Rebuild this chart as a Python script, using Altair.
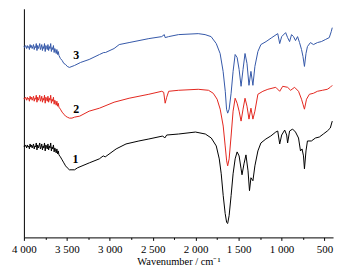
import altair as alt
import pandas as pd

NOISE_W = [4000, 3992, 3984, 3976, 3968, 3960, 3952, 3944, 3936, 3928, 3920, 3912, 3904, 3896,
           3888, 3880, 3872, 3864, 3856, 3848, 3840, 3832, 3824, 3816, 3808, 3800, 3792, 3784,
           3776, 3768, 3760, 3752, 3744, 3736, 3728, 3720, 3712, 3704, 3696, 3688, 3680, 3672,
           3664, 3656, 3648, 3640, 3632, 3624, 3616, 3608, 3600, 3592]

# Trace 3 (blue)
w3 = NOISE_W + [3575, 3555, 3535, 3515, 3495, 3470, 3440, 3410,
                3340, 3240, 3120, 3070, 3050, 2950, 2890, 2775, 2545, 2395,
                2365, 2355, 2315, 2200, 1970, 1890, 1820, 1760, 1715, 1680,
                1655, 1640, 1627, 1610, 1587, 1564, 1540, 1517, 1494, 1471,
                1448, 1425, 1402, 1379, 1356, 1333, 1310, 1275, 1240, 1180,
                1113, 1044, 1021, 998, 952, 929, 906, 883, 860, 837,
                813, 790, 767, 750, 733, 715, 698, 663, 628, 582,
                536, 490, 444, 421, 409]
v3 = [192, 191, 193, 192, 190, 193, 191, 192, 189, 194, 191, 193, 190, 192,
      194, 189, 192, 191, 195, 188, 193, 190, 192, 195, 189, 191, 194, 188,
      192, 190, 195, 187, 193, 191, 189, 194, 188, 192, 190, 195, 187, 191,
      189, 193, 186, 190, 188, 185, 189, 184, 187, 183,
      180, 178, 175, 174, 172, 171, 172, 173,
      176, 179, 184, 186, 186, 190, 194, 196, 200, 202,
      204, 201, 202, 204, 205, 204, 202, 195, 185, 167,
      147, 129, 125, 129, 145, 167, 184, 181, 169, 152,
      169, 185, 175, 153, 167, 153, 172, 187, 194, 197,
      201, 205, 195, 202, 206, 201, 197, 204, 202, 198,
      202, 196, 189, 182, 172, 185, 192, 196, 194, 196,
      197, 199, 201, 207, 211]

# Trace 2 (red)
w2 = NOISE_W + [3575, 3555, 3535, 3515, 3495, 3470, 3440, 3410,
                3350, 3240, 3120, 2950, 2775, 2545, 2395, 2372, 2355, 2337,
                2314, 2200, 1970, 1850, 1795, 1750, 1714, 1679, 1656, 1639,
                1627, 1610, 1587, 1564, 1540, 1517, 1494, 1471, 1448, 1425,
                1402, 1379, 1356, 1333, 1310, 1275, 1217, 1159, 1067, 1021,
                986, 929, 894, 848, 802, 767, 750, 733, 709, 675,
                628, 582, 524, 467, 432, 409]
v2 = [140, 139, 141, 140, 138, 141, 139, 140, 137, 142, 139, 141, 138, 140,
      142, 137, 140, 139, 143, 136, 141, 138, 140, 143, 137, 139, 142, 136,
      140, 138, 143, 135, 141, 139, 137, 142, 136, 140, 138, 143, 135, 139,
      137, 141, 134, 138, 136, 133, 137, 132, 135, 131,
      129, 126, 124, 122, 121, 120, 120, 121,
      122, 127, 130, 136, 140, 144, 147, 146, 135, 141,
      147, 148, 149, 148, 145, 139, 129, 112, 92, 77,
      72, 79, 102, 127, 140, 135, 127, 117, 129, 140,
      132, 119, 130, 119, 127, 144, 147, 149, 151, 147,
      152, 151, 148, 151, 147, 139, 134, 129, 139, 144,
      145, 147, 148, 149, 151, 153]

# Trace 1 (black)
w1 = NOISE_W + [3575, 3555, 3535, 3515, 3495, 3470, 3440, 3410,
                3376, 3238, 3122, 3076, 3053, 2926, 2811, 2661, 2545, 2383,
                2360, 2337, 2199, 2002, 1887, 1818, 1760, 1725, 1702, 1679,
                1656, 1639, 1627, 1610, 1587, 1564, 1540, 1517, 1494, 1471,
                1460, 1437, 1414, 1390, 1373, 1356, 1333, 1310, 1275, 1240,
                1182, 1125, 1067, 1044, 1021, 998, 963, 940, 929, 906,
                871, 837, 802, 779, 761, 744, 733, 715, 698, 652,
                605, 559, 513, 467, 432, 409]
v1 = [92, 91, 93, 92, 90, 93, 91, 92, 89, 94, 91, 93, 90, 92,
      94, 89, 92, 91, 95, 88, 93, 90, 92, 95, 89, 91, 94, 88,
      92, 90, 95, 87, 93, 91, 89, 94, 88, 92, 90, 95, 87, 91,
      89, 93, 86, 90, 88, 85, 89, 84, 87, 83,
      81, 78, 75, 72, 70, 68, 68, 68,
      70, 75, 79, 82, 81, 89, 94, 97, 99, 102,
      100, 103, 104, 106, 104, 100, 92, 79, 64, 42,
      24, 15, 14, 22, 42, 64, 79, 86, 82, 69,
      63, 74, 83, 67, 47, 60, 57, 72, 87, 95,
      99, 102, 106, 107, 94, 103, 108, 103, 95, 107,
      109, 106, 100, 87, 89, 82, 69, 87, 97, 97,
      100, 101, 104, 107, 110, 117]

series_names = ["1", "2", "3"]
series_colors = ["#000000", "#e3261e", "#3458a8"]

label_text = ["3", "2", "1"]
label_w = [3390, 3390, 3400]
label_v = [183, 129, 79]

major_ticks = [4000, 3500, 3000, 2500, 2000, 1500, 1000, 500]
minor_ticks = [3750, 3250, 2750, 2250, 1750, 1250, 750]

rows = []
for name, ws, vs in (("1", w1, v1), ("2", w2, v2), ("3", w3, v3)):
    for w, v in zip(ws, vs):
        rows.append({"w": w, "v": v, "s": name})
df = pd.DataFrame(rows)
labels_df = pd.DataFrame({"t": label_text, "w": label_w, "v": label_v})

FONT = "'Liberation Serif', 'Times New Roman', serif"
xscale = alt.Scale(domain=[400, 4000], reverse=True, nice=False, zero=False)
yscale = alt.Scale(domain=[0, 230], nice=False, zero=False)

major_axis = alt.Axis(
    values=major_ticks, title="Wavenumber / cm⁻¹", grid=False,
    labelExpr="replace(format(datum.value, ','), ',', ' ')",
    tickSize=3, tickColor="black", domainColor="black", labelColor="black",
    labelFont=FONT, labelFontSize=11, titleFont=FONT, titleFontSize=10.5,
    titleFontWeight="normal", titleColor="black", labelPadding=3, titlePadding=2,
    orient="bottom", labelFlush=False,
)
minor_axis = alt.Axis(
    values=minor_ticks, title=None, labels=False, grid=False, domain=False,
    tickSize=2, tickColor="black", orient="bottom",
)

lines = alt.Chart(df).mark_line(strokeWidth=1).encode(
    x=alt.X("w:Q", scale=xscale, axis=major_axis),
    y=alt.Y("v:Q", scale=yscale,
            axis=alt.Axis(labels=False, ticks=False, title=None, grid=False,
                          domainColor="black")),
    color=alt.Color("s:N", scale=alt.Scale(domain=series_names, range=series_colors),
                    legend=None),
    detail="s:N",
)

texts = alt.Chart(labels_df).mark_text(
    font=FONT, fontSize=12, fontWeight="bold", color="black"
).encode(
    x=alt.X("w:Q", scale=xscale, axis=minor_axis),
    y=alt.Y("v:Q", scale=yscale),
    text="t:N",
)

chart = alt.layer(lines, texts).resolve_axis(x="independent").properties(
    width=311, height=230,
    padding={"left": 3, "top": 0, "right": 4, "bottom": 0},
).configure_view(stroke=None)

chart.save("out.html", embed_options={"renderer": "svg", "actions": False})
